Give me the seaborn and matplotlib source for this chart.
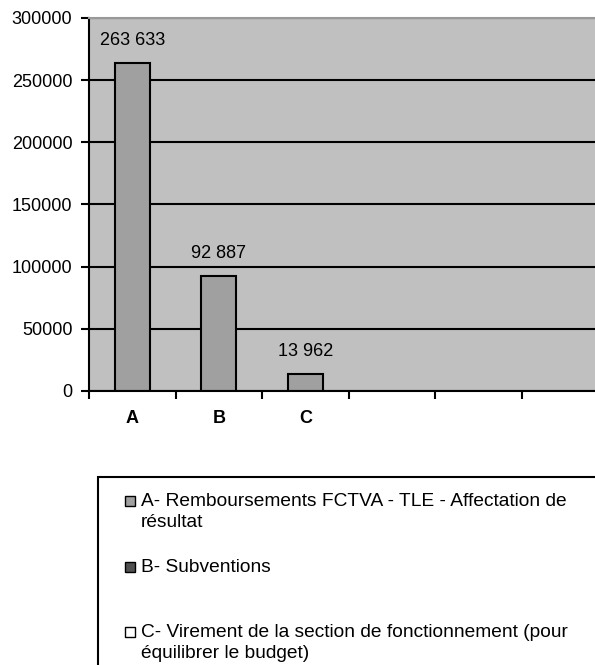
import matplotlib
matplotlib.use("Agg")
import matplotlib.pyplot as plt
import matplotlib.patches as mpatches
import numpy as np
import pandas as pd
import seaborn as sns

# data
categories = ["A", "B", "C"]
values = [263633, 92887, 13962]
n_slots = 6
yticks = [0, 50000, 100000, 150000, 200000, 250000, 300000]
legend_labels = [
    "A- Remboursements FCTVA - TLE - Affectation de\nrésultat",
    "B- Subventions",
    "C- Virement de la section de fonctionnement (pour\néquilibrer le budget)",
]
legend_colors = ["#a0a0a0", "#505050", "#ffffff"]

sns.set_theme(style="white")
plt.rcParams['font.family'] = ['Liberation Sans', 'DejaVu Sans']
plt.rcParams['text.color'] = 'black'
plt.rcParams['xtick.color'] = 'black'
plt.rcParams['ytick.color'] = 'black'
plt.rcParams['axes.labelcolor'] = 'black'

W, H = 595, 665


def fx(x):
    return x / W


def fy(y):
    return 1 - y / H


df = pd.DataFrame({"cat": categories, "val": values})

fig = plt.figure(figsize=(W / 100, H / 100), dpi=100)
ax = fig.add_axes([fx(89), fy(391), (608 - 89) / W, (391 - 18) / H])

sns.barplot(data=df, x="cat", y="val", color="#a0a0a0", saturation=1,
            width=0.4, edgecolor="black", linewidth=1.5, ax=ax)

ax.set_facecolor("#c0c0c0")
ax.set_xlim(-0.5, n_slots - 0.5)
ax.set_ylim(0, 300000)
ax.set_xlabel("")
ax.set_ylabel("")

ax.set_yticks(yticks)
ax.set_yticklabels([str(t) for t in yticks], fontsize=13)
ax.yaxis.grid(True, color="black", linewidth=1.5)
ax.set_axisbelow(True)

ax.set_xticks(np.arange(-0.5, n_slots, 1))
ax.set_xticklabels([])
ax.set_xticks(range(len(categories)), minor=True)
ax.set_xticklabels(categories, minor=True, fontsize=13, fontweight="bold")
ax.tick_params(axis="x", which="major", length=6, width=1.5, color="black", direction="out", bottom=True)
ax.tick_params(axis="x", which="minor", length=0, pad=14, bottom=True)
ax.tick_params(axis="y", length=6, width=1.5, color="black", direction="out", pad=6, left=True)

for s in ["left", "bottom"]:
    ax.spines[s].set_color("black")
    ax.spines[s].set_linewidth(1.5)
ax.spines["top"].set_color("#999999")
ax.spines["top"].set_linewidth(1.5)
ax.spines["right"].set_visible(False)

ax.bar_label(ax.containers[0], labels=[f"{v:,}".replace(",", " ") for v in values],
             padding=10, fontsize=13, color="black")

# legend box (runs off the page like the original)
fig.add_artist(mpatches.Rectangle((fx(98), fy(720)), (640 - 98) / W, (720 - 477) / H,
                                  transform=fig.transFigure, facecolor="white",
                                  edgecolor="black", linewidth=1.5))
first_line_y = [501, 567, 632]
for lab, col, y in zip(legend_labels, legend_colors, first_line_y):
    fig.add_artist(mpatches.Rectangle((fx(125), fy(y + 5)), 10 / W, 10 / H,
                                      transform=fig.transFigure, facecolor=col,
                                      edgecolor="black", linewidth=1))
    fig.text(fx(141), fy(y - 8), lab, ha="left", va="top", fontsize=13.8,
             linespacing=1.3, color="black")

fig.savefig("out.png", dpi=100)
